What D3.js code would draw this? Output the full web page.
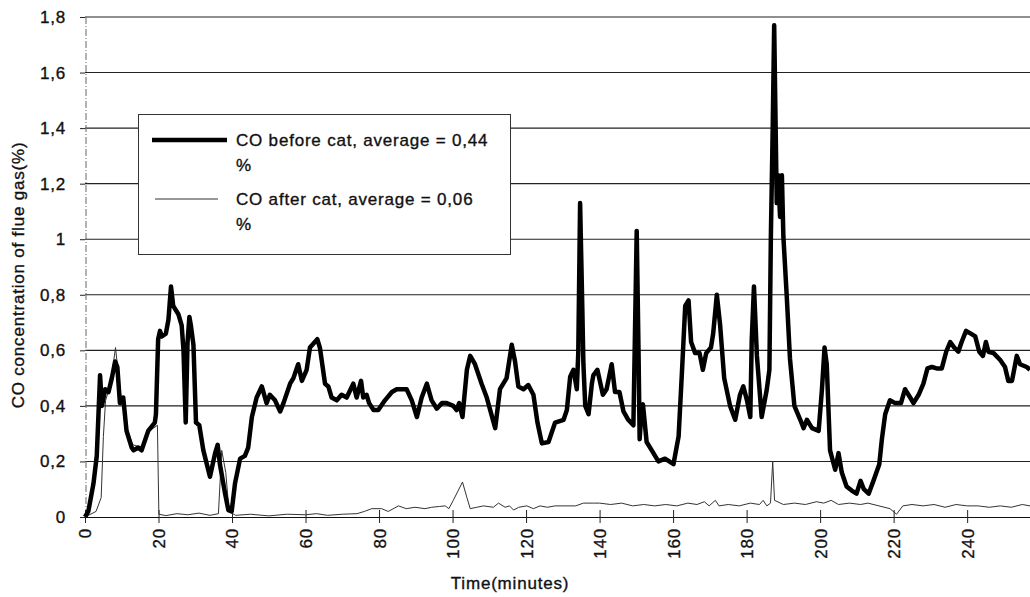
<!DOCTYPE html>
<html>
<head>
<meta charset="utf-8">
<script src="https://cdn.jsdelivr.net/npm/d3@7"></script>
<style>
  body { margin: 0; background: #fff; }
  text { font-family: "Liberation Sans", Arial, sans-serif; fill: #111; stroke: #111; stroke-width: 0.35px; }
</style>
</head>
<body>
<div id="vis"></div>
<script>
// time (minutes) and CO (%)
var beforeTime = [0, 0.9, 2.3, 3.2, 4.1, 4.6, 5.5, 6.4, 7.3, 8.2, 8.8, 9.5, 10.4, 11.3, 12.7, 13.2, 14.5, 15.4, 17.2, 19.0,
    19.3, 19.9, 20.4, 20.9, 22.0, 22.7, 23.4, 24.0, 25.4, 26.3, 26.8, 27.4, 27.9, 28.4, 28.8, 29.5, 30.2, 31.1, 32.2, 34.0,
    35.4, 36.1, 36.7, 38.1, 39.0, 39.9, 40.8, 42.2, 43.5, 44.4, 45.4, 46.7, 48.1, 49.4, 50.3, 51.7, 53.1, 54.0, 55.8, 56.7,
    58.0, 59.0, 60.3, 61.2, 63.2, 63.9, 65.3, 66.2, 67.1, 68.5, 69.8, 71.2, 73.0, 73.9, 75.1, 75.7, 76.6, 77.3, 78.5, 79.8,
    81.6, 83.5, 84.8, 87.5, 88.9, 90.3, 91.6, 93.0, 94.3, 95.7, 97.1, 98.4, 100.2, 101.1, 101.8, 102.7, 103.9, 104.8, 106.1, 107.9,
    109.3, 111.6, 112.9, 113.8, 114.7, 116.1, 117.0, 117.9, 119.3, 120.6, 122.0, 123.1, 124.3, 126.1, 127.9, 130.2, 131.1, 132.0, 132.9, 133.8,
    134.2, 134.7, 135.3, 135.6, 136.1, 137.0, 137.9, 138.3, 139.4, 140.9, 141.9, 143.3, 144.2, 145.4, 146.5, 147.8, 149.2, 150.1, 150.6, 150.9,
    151.5, 151.8, 152.8, 154.2, 156.0, 157.8, 160.1, 161.5, 162.4, 163.3, 164.2, 164.9, 166.0, 167.2, 168.1, 169.0, 170.3, 170.9, 171.9, 172.8,
    173.9, 175.5, 176.9, 178.2, 179.1, 180.1, 181.0, 181.4, 182.0, 182.8, 184.1, 185.5, 186.2, 186.6, 187.1, 187.5, 187.9, 188.2, 188.6, 189.1,
    189.6, 190.0, 190.9, 191.8, 193.0, 194.6, 195.5, 196.4, 197.8, 199.6, 200.5, 201.2, 201.8, 202.7, 204.1, 205.0, 205.9, 207.2, 208.6, 209.9,
    211.0, 211.9, 213.2, 214.5, 216.1, 216.8, 217.7, 219.0, 220.4, 222.0, 223.1, 224.5, 225.4, 226.8, 228.1, 229.2, 230.4, 231.7, 233.1, 234.3,
    235.4, 236.5, 237.6, 238.5, 239.7, 241.0, 242.2, 243.3, 244.3, 245.1, 245.8, 247.2, 249.0, 250.3, 251.2, 252.2, 253.5, 254.4, 256.2, 257.1];
var beforeCO = [0, 0.02, 0.12, 0.22, 0.51, 0.40, 0.46, 0.45, 0.50, 0.56, 0.54, 0.41, 0.43, 0.31, 0.25, 0.24, 0.25, 0.24, 0.31, 0.34,
    0.37, 0.64, 0.67, 0.65, 0.66, 0.71, 0.83, 0.76, 0.73, 0.69, 0.60, 0.34, 0.63, 0.72, 0.69, 0.62, 0.34, 0.33, 0.24, 0.145,
    0.23, 0.26, 0.19, 0.085, 0.025, 0.02, 0.12, 0.21, 0.22, 0.25, 0.36, 0.43, 0.47, 0.41, 0.44, 0.42, 0.38, 0.41, 0.48, 0.50,
    0.55, 0.49, 0.53, 0.61, 0.64, 0.61, 0.48, 0.47, 0.43, 0.42, 0.44, 0.43, 0.48, 0.43, 0.49, 0.43, 0.44, 0.41, 0.385, 0.385,
    0.42, 0.45, 0.46, 0.46, 0.42, 0.36, 0.43, 0.48, 0.42, 0.39, 0.41, 0.41, 0.40, 0.385, 0.41, 0.36, 0.53, 0.58, 0.55, 0.48,
    0.43, 0.32, 0.46, 0.48, 0.50, 0.62, 0.56, 0.47, 0.46, 0.475, 0.44, 0.34, 0.265, 0.27, 0.34, 0.35, 0.385, 0.505, 0.53, 0.46,
    0.59, 1.13, 0.75, 0.55, 0.40, 0.37, 0.48, 0.51, 0.53, 0.44, 0.46, 0.55, 0.45, 0.45, 0.38, 0.35, 0.33, 1.03, 0.59, 0.28,
    0.40, 0.405, 0.27, 0.24, 0.20, 0.21, 0.19, 0.29, 0.52, 0.76, 0.78, 0.63, 0.59, 0.59, 0.53, 0.59, 0.61, 0.66, 0.80, 0.69,
    0.50, 0.40, 0.35, 0.44, 0.47, 0.42, 0.36, 0.64, 0.83, 0.58, 0.36, 0.46, 0.53, 1.01, 1.40, 1.77, 1.40, 1.13, 1.23, 1.08,
    1.23, 1.01, 0.80, 0.57, 0.40, 0.35, 0.32, 0.35, 0.32, 0.31, 0.46, 0.61, 0.55, 0.24, 0.17, 0.23, 0.16, 0.11, 0.095, 0.084,
    0.13, 0.10, 0.084, 0.13, 0.19, 0.28, 0.37, 0.42, 0.41, 0.41, 0.46, 0.43, 0.41, 0.44, 0.48, 0.535, 0.54, 0.535, 0.535, 0.595,
    0.63, 0.61, 0.595, 0.63, 0.67, 0.66, 0.65, 0.595, 0.58, 0.63, 0.595, 0.59, 0.565, 0.54, 0.49, 0.49, 0.58, 0.55, 0.54, 0.53];

var afterTime = [0, 3, 4.4, 5.0, 5.6, 7.0, 8.3, 9.6, 11.2, 13, 15.5, 17.5, 19.7, 20.1, 22, 25, 28, 31, 34, 36.3,
    37.2, 38.3, 39.2, 41, 45, 50, 55, 60, 63, 66, 70, 74, 76, 78, 80.7, 82.5, 85.3, 87.4, 89.8, 92.5,
    94.3, 96.5, 98, 99, 100.2, 102.7, 103.9, 104.8, 106.6, 108.4, 111.1, 112.5, 114.3, 115.5, 116.6, 118, 120.2, 122, 123.8, 125.8,
    127.9, 131.1, 133.5, 135.6, 138.3, 140, 143, 146, 149, 152, 155, 158, 161, 164, 166.5, 168.5, 169.8, 171.5, 172.5, 175,
    178, 181, 183.5, 184.5, 185.5, 186.5, 187.1, 187.6, 190, 193, 196, 199, 201, 203, 205, 208, 211, 213, 216, 219,
    220.8, 222.5, 225, 228, 231, 234, 237, 240, 243, 246, 249, 252, 255, 257.1];
var afterCO = [0, 0.02, 0.07, 0.29, 0.42, 0.48, 0.61, 0.45, 0.33, 0.26, 0.25, 0.31, 0.33, 0.01, 0.005, 0.012, 0.008, 0.014, 0.006, 0.012,
    0.24, 0.16, 0.02, 0.006, 0.01, 0.004, 0.01, 0.008, 0.012, 0.006, 0.01, 0.012, 0.02, 0.03, 0.03, 0.02, 0.04, 0.03, 0.035, 0.03,
    0.035, 0.038, 0.04, 0.03, 0.06, 0.126, 0.07, 0.03, 0.035, 0.04, 0.035, 0.05, 0.035, 0.04, 0.025, 0.035, 0.04, 0.03, 0.04, 0.035,
    0.04, 0.04, 0.04, 0.05, 0.05, 0.05, 0.045, 0.05, 0.04, 0.045, 0.04, 0.045, 0.04, 0.05, 0.045, 0.055, 0.04, 0.06, 0.04, 0.045,
    0.04, 0.05, 0.045, 0.06, 0.04, 0.05, 0.2, 0.06, 0.045, 0.05, 0.045, 0.055, 0.05, 0.06, 0.045, 0.05, 0.045, 0.05, 0.04, 0.03,
    0.01, 0.04, 0.045, 0.04, 0.045, 0.035, 0.045, 0.04, 0.04, 0.035, 0.04, 0.035, 0.045, 0.04];

var xTicks = [0, 20, 40, 60, 80, 100, 120, 140, 160, 180, 200, 220, 240];
var yTicks = [0, 0.2, 0.4, 0.6, 0.8, 1, 1.2, 1.4, 1.6, 1.8];

var legendNames = [["CO before cat, average = 0,44", "%"], ["CO after cat, average = 0,06", "%"]];

var W = 1030, H = 597;
var plotL = 85, plotR = 1030, plotT = 17, plotB = 517;

var svg = d3.select("#vis").append("svg")
    .attr("width", W)
    .attr("height", H)
    .style("font-size", "17px")
    .style("letter-spacing", "0.8px");

svg.append("rect").attr("width", W).attr("height", H).attr("fill", "#fff");

var x = d3.scaleLinear().domain([0, 257.1]).range([plotL, plotR]);
var y = d3.scaleLinear().domain([0, 1.8]).range([plotB, plotT]);

var comma = d => String(d).replace(".", ",");

// horizontal grid
svg.append("g")
    .selectAll("line")
    .data(yTicks.filter(d => d > 0))
    .enter().append("line")
    .attr("x1", plotL).attr("x2", plotR)
    .attr("y1", d => y(d)).attr("y2", d => y(d))
    .attr("stroke", "#222")
    .attr("stroke-width", 1.1);

// y axis
var yAxis = d3.axisLeft(y).tickValues(yTicks).tickSize(5).tickPadding(14).tickFormat(comma);
var gy = svg.append("g")
    .attr("transform", "translate(" + plotL + ",0)")
    .call(yAxis);
gy.attr("font-family", null).attr("font-size", null);
gy.select(".domain").remove();
gy.selectAll(".tick line").attr("stroke", "#222");
gy.selectAll(".tick text").attr("fill", "#111");

svg.append("line")
    .attr("x1", plotL + 1).attr("x2", plotL + 1)
    .attr("y1", plotT).attr("y2", plotB)
    .attr("stroke", "#666")
    .attr("stroke-width", 1)
    .attr("stroke-dasharray", "7,2,1,2");

// x axis
var xAxis = d3.axisBottom(x).tickValues(xTicks).tickSizeInner(6).tickSizeOuter(0);
var gx = svg.append("g")
    .attr("transform", "translate(0," + plotB + ")")
    .call(xAxis);
gx.attr("font-family", null).attr("font-size", null);
gx.select(".domain").attr("stroke", "#111").attr("stroke-width", 1.2);
gx.selectAll(".tick line").attr("y1", -7).attr("stroke", "#222");
gx.selectAll(".tick text")
    .attr("transform", "rotate(-90)")
    .attr("x", -11)
    .attr("y", 0)
    .attr("dy", "0.35em")
    .attr("fill", "#111")
    .style("text-anchor", "end");

// axis titles
svg.append("text")
    .attr("transform", "translate(18,275) rotate(-90)")
    .attr("dy", "0.35em")
    .style("text-anchor", "middle")
    .text("CO concentration of flue gas(%)");

svg.append("text")
    .attr("x", 510)
    .attr("y", 589)
    .style("text-anchor", "middle")
    .text("Time(minutes)");

// lines
var line = d3.line()
    .x(d => x(d[0]))
    .y(d => y(d[1]));

var afterData = afterTime.map((t, i) => [t, afterCO[i]]);
var beforeData = beforeTime.map((t, i) => [t, beforeCO[i]]);

svg.append("path")
    .datum(afterData)
    .attr("d", line)
    .attr("fill", "none")
    .attr("stroke", "#333")
    .attr("stroke-width", 1);

svg.append("path")
    .datum(beforeData)
    .attr("d", line)
    .attr("fill", "none")
    .attr("stroke", "#000")
    .attr("stroke-width", 4.5)
    .attr("stroke-linejoin", "round");

// legend
var legend = svg.append("g").attr("class", "legend");

legend.append("rect")
    .attr("x", 138.5).attr("y", 114.5)
    .attr("width", 372).attr("height", 140)
    .attr("fill", "#fff")
    .attr("stroke", "#333")
    .attr("stroke-width", 1);

var rowsY = [140, 199];

legend.append("line")
    .attr("x1", 152).attr("x2", 227)
    .attr("y1", rowsY[0]).attr("y2", rowsY[0])
    .attr("stroke", "#000").attr("stroke-width", 4.5);

legend.append("line")
    .attr("x1", 155).attr("x2", 218)
    .attr("y1", rowsY[1]).attr("y2", rowsY[1])
    .attr("stroke", "#333").attr("stroke-width", 1);

legendNames.forEach(function (lines, i) {
    lines.forEach(function (s, j) {
        legend.append("text")
            .attr("x", 236)
            .attr("y", rowsY[i] + j * 25)
            .attr("dy", "0.35em")
            .text(s);
    });
});
</script>
</body>
</html>
